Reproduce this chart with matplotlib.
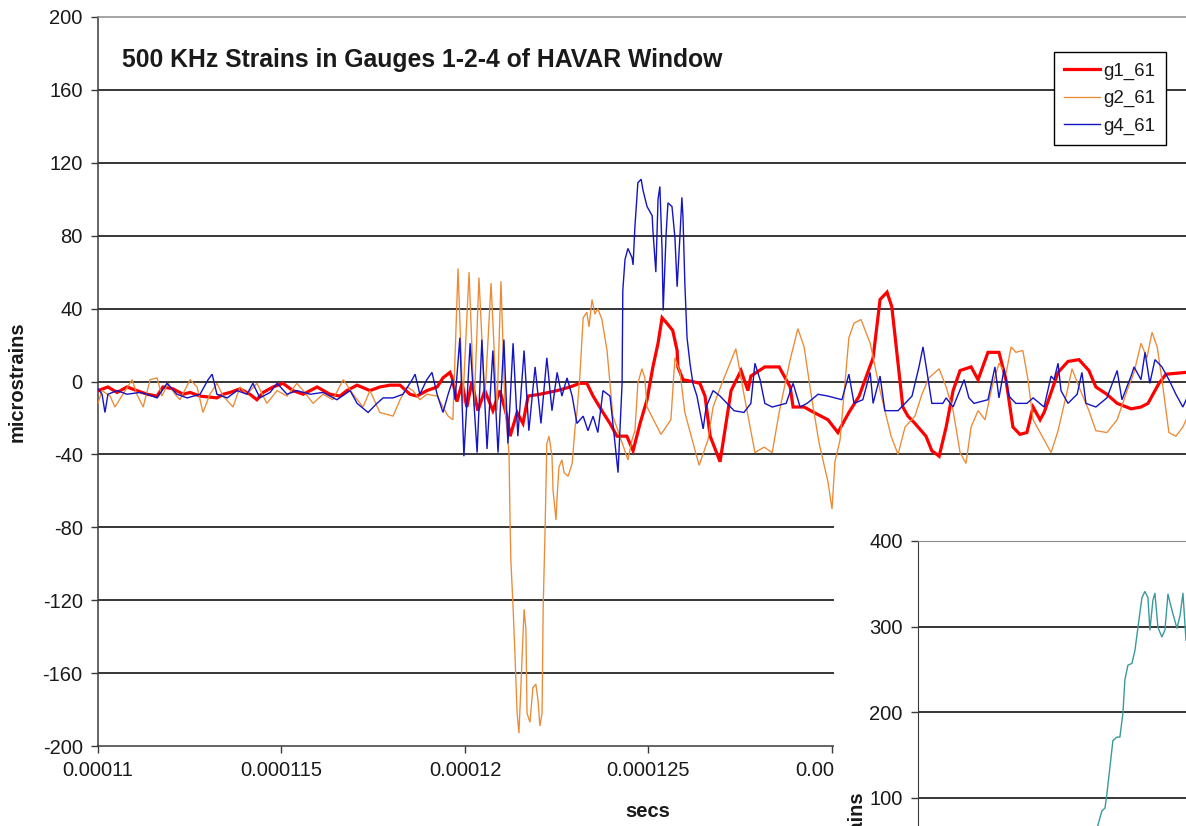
import numpy as np
import matplotlib
matplotlib.use("Agg")
import matplotlib.pyplot as plt
from matplotlib.patches import Rectangle
from matplotlib.lines import Line2D

plt.rcParams['font.family'] = ['Liberation Sans', 'DejaVu Sans']
plt.rcParams['axes.unicode_minus'] = False

# ---- strain records (time in microseconds, strain in microstrains) ----
g1_t = [110.00, 110.27, 110.52, 110.79, 111.06, 111.34, 111.61, 111.77, 112.04, 112.32,
        112.51, 112.78, 113.24, 113.41, 113.60, 113.87, 114.14, 114.33, 114.50, 114.77,
        115.04, 115.31, 115.59, 115.97, 116.32, 116.59, 116.78, 117.06, 117.41, 117.68,
        117.96, 118.23, 118.50, 118.69, 118.96, 119.24, 119.40, 119.59, 119.65, 119.78,
        119.92, 120.05, 120.19, 120.35, 120.54, 120.76, 120.95, 121.14, 121.23, 121.42,
        121.58, 121.72, 122.04, 122.51, 122.86, 123.13, 123.32, 123.49, 123.76, 123.95,
        124.14, 124.41, 124.58, 124.77, 124.96, 125.12, 125.26, 125.37, 125.50, 125.66,
        125.78, 125.80, 125.94, 126.19, 126.40, 126.54, 126.68, 126.95, 127.25, 127.52,
        127.71, 127.79, 128.17, 128.56, 128.86, 128.94, 129.24, 129.51, 129.89, 130.16,
        130.46, 130.74, 131.12, 131.31, 131.50, 131.63, 131.80, 131.93, 132.07, 132.26,
        132.56, 132.72, 132.92, 133.11, 133.30, 133.49, 133.79, 133.98, 134.25, 134.55,
        134.74, 134.93, 135.12, 135.31, 135.48, 135.67, 135.78, 136.16, 136.43, 136.73,
        137.00, 137.19, 137.49, 137.77, 138.15, 138.42, 138.61, 138.91, 139.10, 139.65]
g1_v = [-5, -3, -6, -3, -5, -7, -8, -3, -4, -7,
        -6, -8, -9, -7, -6, -4, -7, -10, -6, -3,
        -1, -5, -7, -3, -7, -8, -5, -2, -5, -3,
        -2, -2, -7, -8, -5, -3, 2, 5, 2, -11,
        -1, -14, 0, -16, -5, -16, -5, -19, -30, -17,
        -23, -8, -7, -5, -3, -1, -1, -8, -17, -23,
        -30, -30, -38, -23, -10, 8, 21, 35, 32, 28,
        17, 8, 1, 0, -1, -8, -30, -44, -5, 6,
        -5, 3, 8, 8, -3, -14, -14, -17, -21, -28,
        -17, -8, 13, 45, 49, 41, 10, -14, -19, -23,
        -30, -38, -41, -25, -5, 6, 8, 1, 16, 16,
        1, -25, -29, -28, -14, -21, -17, 5, 11, 12,
        6, -3, -7, -12, -15, -14, -12, -1, 4, 5]

g2_t = [110.00, 110.11, 110.33, 110.46, 110.68, 110.93, 111.06, 111.23, 111.42, 111.61,
        111.74, 111.91, 112.10, 112.23, 112.51, 112.70, 112.86, 113.05, 113.24, 113.41,
        113.68, 113.87, 114.06, 114.33, 114.60, 114.88, 115.15, 115.42, 115.59, 115.86,
        116.13, 116.40, 116.68, 116.95, 117.22, 117.41, 117.68, 117.87, 118.04, 118.23,
        118.42, 118.58, 118.77, 118.96, 119.24, 119.40, 119.54, 119.67, 119.81, 119.94,
        120.11, 120.25, 120.38, 120.54, 120.71, 120.87, 120.98, 121.09, 121.20, 121.23,
        121.25, 121.31, 121.36, 121.42, 121.47, 121.53, 121.61, 121.66, 121.69, 121.77,
        121.85, 121.93, 121.99, 122.04, 122.10, 122.13, 122.18, 122.21, 122.23, 122.29,
        122.37, 122.40, 122.48, 122.51, 122.56, 122.64, 122.70, 122.81, 122.92, 123.00,
        123.05, 123.13, 123.22, 123.32, 123.38, 123.46, 123.54, 123.62, 123.73, 123.87,
        123.95, 124.03, 124.22, 124.44, 124.55, 124.63, 124.71, 124.82, 124.90, 124.96,
        125.34, 125.61, 125.72, 125.86, 125.99, 126.19, 126.38, 126.62, 126.76, 127.00,
        127.38, 127.60, 127.90, 128.15, 128.37, 128.56, 128.86, 129.07, 129.24, 129.43,
        129.65, 129.89, 130.00, 130.08, 130.22, 130.46, 130.60, 130.79, 131.04, 131.31,
        131.61, 131.80, 131.99, 132.26, 132.45, 132.64, 132.92, 133.11, 133.30, 133.49,
        133.65, 133.79, 133.98, 134.17, 134.36, 134.55, 134.74, 134.88, 135.01, 135.20,
        135.34, 135.48, 135.78, 135.97, 136.16, 136.40, 136.54, 136.73, 137.00, 137.19,
        137.49, 137.77, 138.04, 138.23, 138.42, 138.58, 138.72, 138.86, 138.99, 139.18,
        139.37, 139.56, 139.65]
g2_v = [-12, -5, -8, -14, -7, 1, -7, -14, 1, 2,
        -8, -1, -7, -10, 1, -3, -17, -7, -1, -8,
        -14, -3, -7, -1, -12, -5, -8, -1, -5, -12,
        -7, -10, 1, -7, -14, -5, -17, -18, -19, -10,
        -3, -5, -10, -7, -8, -14, -19, -21, 62, -12,
        60, -14, 57, -10, 54, -16, 55, -14, -40, -80,
        -98, -124, -149, -182, -193, -164, -125, -136, -182, -187,
        -168, -166, -175, -189, -182, -124, -83, -54, -34, -30,
        -41, -60, -76, -63, -47, -43, -50, -52, -45, -25,
        -17, 3, 35, 38, 30, 45, 37, 40, 34, 17,
        -1, -19, -30, -43, -32, -27, -1, 7, 2, -14,
        -29, -21, 13, 5, -17, -32, -46, -32, -14, -1,
        18, -7, -39, -36, -39, -17, 12, 29, 19, -7,
        -34, -55, -70, -44, -32, 24, 32, 34, 21, -5,
        -30, -40, -25, -19, -7, 2, 7, -3, -16, -39,
        -45, -25, -16, -21, -3, 10, 4, 19, 16, 17,
        1, -21, -32, -39, -27, -6, 7, -3, -16, -27,
        -28, -21, -5, 5, 21, 13, 27, 19, 1, -28,
        -30, -25, -21]

g4_t = [110.00, 110.11, 110.19, 110.27, 110.52, 110.79, 111.14, 111.34, 111.61, 111.88,
        112.15, 112.43, 112.78, 113.00, 113.11, 113.24, 113.52, 113.79, 114.06, 114.22,
        114.41, 114.69, 114.88, 115.15, 115.42, 115.78, 116.13, 116.51, 116.87, 117.06,
        117.36, 117.60, 117.77, 118.04, 118.31, 118.56, 118.64, 118.77, 118.96, 119.10,
        119.24, 119.40, 119.54, 119.67, 119.73, 119.86, 119.97, 120.14, 120.33, 120.46,
        120.60, 120.76, 120.90, 121.06, 121.17, 121.31, 121.44, 121.61, 121.74, 121.91,
        122.07, 122.23, 122.37, 122.51, 122.64, 122.78, 122.92, 123.05, 123.22, 123.35,
        123.49, 123.62, 123.76, 123.95, 124.03, 124.17, 124.28, 124.30, 124.36, 124.44,
        124.55, 124.58, 124.63, 124.71, 124.80, 124.85, 124.96, 125.10, 125.12, 125.20,
        125.26, 125.31, 125.37, 125.40, 125.48, 125.53, 125.64, 125.72, 125.78, 125.86,
        125.91, 125.94, 125.99, 126.05, 126.13, 126.21, 126.32, 126.49, 126.57, 126.76,
        126.95, 127.14, 127.33, 127.60, 127.79, 127.90, 128.04, 128.17, 128.37, 128.75,
        128.94, 129.13, 129.32, 129.62, 129.89, 130.27, 130.46, 130.60, 130.84, 131.04,
        131.12, 131.31, 131.44, 131.80, 132.18, 132.37, 132.48, 132.59, 132.72, 133.02,
        133.11, 133.30, 133.60, 133.73, 133.87, 134.25, 134.44, 134.55, 134.69, 134.82,
        135.01, 135.31, 135.48, 135.78, 135.97, 136.05, 136.16, 136.24, 136.43, 136.68,
        136.81, 136.92, 137.19, 137.49, 137.77, 137.90, 138.15, 138.23, 138.42, 138.53,
        138.66, 138.80, 138.99, 139.18, 139.37, 139.56, 139.65]
g4_v = [-4, -7, -17, -7, -5, -7, -6, -7, -9, -1,
        -7, -9, -7, 1, 4, -7, -9, -5, -7, -1,
        -9, -6, -1, -7, -5, -7, -6, -10, -5, -12,
        -17, -12, -9, -9, -7, 1, 4, -7, 1, 5,
        -7, -17, -7, 1, -10, 24, -41, 21, -39, 23,
        -37, 17, -39, 23, -34, 21, -30, 17, -27, 8,
        -23, 13, -16, 5, -8, 2, -8, -23, -19, -27,
        -19, -28, -5, -8, -23, -50, -1, 50, 67, 73,
        68, 64, 85, 109, 111, 105, 96, 91, 83, 60,
        100, 107, 72, 39, 81, 98, 96, 79, 52, 81,
        101, 90, 54, 24, 10, -1, -8, -26, -14, -5,
        -8, -12, -16, -17, -12, 10, 1, -12, -14, -12,
        -1, -14, -12, -7, -8, -10, 4, -12, -10, 5,
        -12, 3, -16, -16, -8, 8, 19, 5, -12, -12,
        -9, -14, 1, -9, -12, -10, 8, -9, 7, -8,
        -12, -12, -9, -14, 3, 1, 10, -5, -12, -7,
        5, -12, -14, -9, 6, -10, 3, 8, 1, 16,
        -1, 12, 8, 1, -7, -14, -10]

# second record shown in the lower-right panel
ins_t = [19.40, 19.81, 20.14, 20.59, 20.93, 21.15, 21.82, 22.27, 22.60, 22.94,
         23.16, 23.50, 23.95, 24.28, 24.62, 25.07, 25.40, 25.74, 25.96, 26.30,
         26.52, 26.86, 27.30, 27.64, 27.98, 28.43, 28.99, 29.33, 29.66, 30.00]
ins_v = [30, 62, 68, 85, 88, 105, 167, 171, 171, 199,
         238, 255, 257, 272, 299, 334, 341, 334, 296, 331,
         339, 299, 288, 296, 338, 319, 298, 313, 339, 284]

series_names = ['g1_61', 'g2_61', 'g4_61']
series_colors = ['#ff0000', '#ec8a35', '#1414c4']
series_widths = [2.3, 0.95, 1.0]

y_ticks = [200, 160, 120, 80, 40, 0, -40, -80, -120, -160, -200]
x_ticks = [0.00011, 0.000115, 0.00012, 0.000125, 0.00013]
x_tick_labels = ['0.00011', '0.000115', '0.00012', '0.000125', '0.00013']
inset_y_ticks = [100, 200, 300, 400]

W, H = 1186, 826
fig = plt.figure(figsize=(W / 100, H / 100), dpi=100)


def px_box(left, top, right, bottom):
    return [left / W, 1 - bottom / H, (right - left) / W, (bottom - top) / H]


TXT = '#1a1a1a'
SPINE = '#3a3a3a'

# ---- main chart ----
ax = fig.add_axes(px_box(98, 17, 1186, 746))
ax.set_zorder(1)
ax.set_xlim(0.00011, 0.00011 + 1088 / 36.7 * 1e-6)
ax.set_ylim(-200, 200)
for v in y_ticks[1:-1]:
    ax.axhline(v, color='black', lw=1.1, zorder=1)

data = [(g1_t, g1_v), (g2_t, g2_v), (g4_t, g4_v)]
for (t, v), name, c, lw in zip(data, series_names, series_colors, series_widths):
    ax.plot(np.asarray(t) * 1e-6, v, color=c, lw=lw, label=name, zorder=3,
            solid_joinstyle='miter')

ax.set_yticks(y_ticks)
ax.set_xticks(x_ticks)
ax.set_xticklabels(x_tick_labels)
ax.tick_params(axis='both', direction='out', length=5, width=1, color=SPINE,
               labelsize=14.5, labelcolor=TXT)
ax.tick_params(axis='y', pad=6)
ax.tick_params(axis='x', pad=6)
ax.spines['right'].set_visible(False)
ax.spines['top'].set_color('#8c8c8c')
ax.spines['left'].set_color(SPINE)
ax.spines['bottom'].set_color(SPINE)
for s in ('top', 'left', 'bottom'):
    ax.spines[s].set_linewidth(1.1)

ax.set_ylabel('microstrains', fontsize=14.5, fontweight='bold', color=TXT)
ax.yaxis.set_label_coords((27 - 98) / 1088, 0.5)
ax.set_xlabel('secs', fontsize=14.5, fontweight='bold', color=TXT)
ax.xaxis.set_label_coords((648 - 98) / 1088, (746 - 802) / 729)

fig.text(122 / W, 1 - 60 / H, '500 KHz Strains in Gauges 1-2-4 of HAVAR Window',
         ha='left', va='center', fontsize=17.8, fontweight='bold', color=TXT)

handles = [Line2D([], [], color=c, lw=lw) for c, lw in zip(series_colors, series_widths)]
leg = ax.legend(handles, series_names, loc='upper left',
                bbox_to_anchor=(1054 / W, 1 - 52 / H), bbox_transform=fig.transFigure,
                fancybox=False, framealpha=1, edgecolor='black', fontsize=13.5,
                handlelength=1.9, handletextpad=0.2, borderpad=0.55, labelspacing=0.55,
                borderaxespad=0)
leg.get_frame().set_linewidth(1.0)
for t in leg.get_texts():
    t.set_color(TXT)

# ---- lower-right panel ----
fig.add_artist(Rectangle((834 / W, 0), 1 - 834 / W, 1 - 518 / H,
                         transform=fig.transFigure, facecolor='white',
                         edgecolor='none', zorder=5))
ax2 = fig.add_axes(px_box(918, 541, 1186, 883.5))
ax2.set_zorder(10)
ax2.set_xlim(0, 30)
ax2.set_ylim(0, 400)
for v in inset_y_ticks[:-1]:
    ax2.axhline(v, color='black', lw=1.1, zorder=1)
ax2.plot(ins_t, ins_v, color='#3a9a9a', lw=1.0, zorder=3)
ax2.set_yticks(inset_y_ticks)
ax2.set_xticks([])
ax2.tick_params(axis='y', direction='out', length=5, width=1, color=SPINE,
                labelsize=14.5, labelcolor=TXT, pad=6)
ax2.spines['right'].set_visible(False)
ax2.spines['top'].set_color('#8c8c8c')
ax2.spines['left'].set_color(SPINE)
ax2.spines['bottom'].set_visible(False)
fig.text(866 / W, 1 - 790 / H, 'microstrains', rotation=90, rotation_mode='anchor',
         ha='right', va='bottom', fontsize=14.5, fontweight='bold', color=TXT,
         zorder=11)

fig.savefig('out.png', dpi=100)
